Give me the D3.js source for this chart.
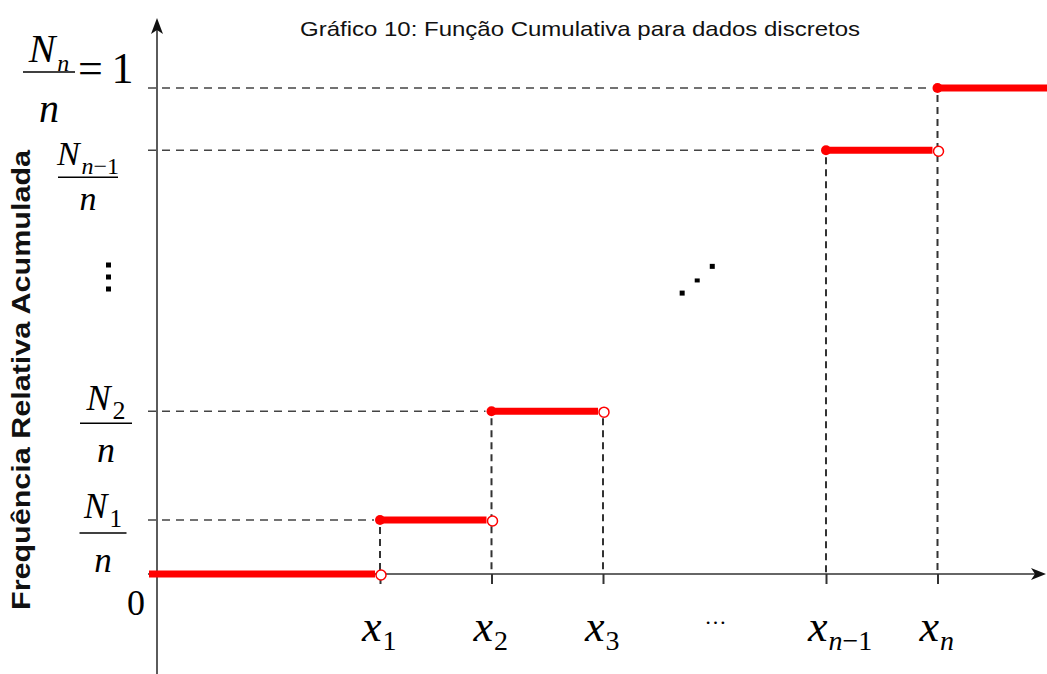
<!DOCTYPE html>
<html>
<head>
<meta charset="utf-8">
<script src="https://cdn.jsdelivr.net/npm/d3@7"></script>
<style>
  html, body { margin: 0; padding: 0; background: #fff; }
  svg { display: block; }
</style>
</head>
<body>
<svg id="chart" width="1047" height="674"></svg>
<script>
// ---------------- DATA ----------------
const title = "Gráfico 10: Função Cumulativa para dados discretos";
const yTitle = "Frequência Relativa Acumulada";
// x categories (index positions on the x axis)
const xIndex = [1, 2, 3, 5, 6];
const xSubs = ["1", "2", "3", "n\u22121", "n"];
const xEllipsisIndex = 4;
// cumulative relative frequency steps
const stepLevels = [0, 0.111, 0.335, 0.872, 1.0];
const stepStart  = [-1, 1, 2, 5, 6];
const stepEnd    = [1, 2, 3, 6, 7];
// y tick labels (fractions N_k / n)
const yLabelValues = [0.111, 0.335, 0.872, 1.0];
const yLabelSubs   = ["1", "2", "n\u22121", "n"];
// ellipsis dots for the skipped steps
const diagDotsX = [3.71, 3.845, 3.98];
const diagDotsY = [0.578, 0.604, 0.633];

// ---------------- SCALES ----------------
const svg = d3.select("#chart");
const x = d3.scaleLinear().domain([-1, 7]).range([157, 1049]);
const y = d3.scaleLinear().domain([0, 1]).range([574, 88]);
const RED = "#ff0000";
const serif = "'Liberation Serif', 'Times New Roman', serif";
const sans = "'Liberation Sans', Arial, sans-serif";

// title
svg.append("text").attr("x", 300).attr("y", 36)
  .style("font-family", sans)
  .style("font-size", "21px").attr("fill", "#111")
  .attr("textLength", 560).attr("lengthAdjust", "spacingAndGlyphs")
  .text(title);

// y axis title
svg.append("text")
  .attr("transform", "translate(30,610) rotate(-90)")
  .style("font-family", sans)
  .style("font-weight", "bold").style("font-size", "25px")
  .attr("textLength", 460).attr("lengthAdjust", "spacingAndGlyphs")
  .attr("fill", "#111").text(yTitle);

// ---------------- AXES ----------------
const xAxis = d3.axisBottom(x).tickValues(xIndex).tickSize(10).tickFormat("");
const gx = svg.append("g").attr("transform", `translate(0,${y(0)})`).call(xAxis);
gx.select(".domain").remove();
gx.selectAll(".tick line").attr("stroke", "#333").attr("stroke-width", 2);
svg.append("line").attr("x1", 148).attr("x2", 1036).attr("y1", y(0)).attr("y2", y(0))
  .attr("stroke", "#333").attr("stroke-width", 1.6);
// x arrow
svg.append("path")
  .attr("d", `M1046,${y(0)} L1031,${y(0)-6} L1035,${y(0)} L1031,${y(0)+6} Z`)
  .attr("fill", "#111");

svg.append("line").attr("x1", x(-1)).attr("x2", x(-1)).attr("y1", 674).attr("y2", 30)
  .attr("stroke", "#333").attr("stroke-width", 1.6);
svg.append("path")
  .attr("d", `M${x(-1)},18 L${x(-1)-6},34 L${x(-1)},30 L${x(-1)+6},34 Z`)
  .attr("fill", "#111");

// ---------------- DASHED GUIDES ----------------
const guides = svg.append("g");
stepLevels.forEach((v, i) => {
  if (i === 0) return;
  guides.append("line")
    .attr("x1", 148).attr("x2", x(stepStart[i]) - 6)
    .attr("y1", y(v)).attr("y2", y(v))
    .attr("stroke", "#444").attr("stroke-width", 1.5)
    .attr("stroke-dasharray", "8,6");
});
xIndex.forEach((xi) => {
  const si = stepStart.indexOf(xi);
  const lvl = si >= 0 ? stepLevels[si] : stepLevels[stepEnd.indexOf(xi)];
  guides.append("line")
    .attr("x1", x(xi)).attr("x2", x(xi))
    .attr("y1", y(lvl) + 7).attr("y2", y(0))
    .attr("stroke", "#333").attr("stroke-width", 2)
    .attr("stroke-dasharray", "7,5");
});

// ---------------- STEPS ----------------
const steps = svg.append("g");
stepLevels.forEach((v, i) => {
  const xs = i === 0 ? 149 : x(stepStart[i]);
  const xe = stepEnd[i] >= 7 ? 1047 : x(stepEnd[i]) - 5;
  steps.append("line")
    .attr("x1", xs).attr("x2", xe).attr("y1", y(v)).attr("y2", y(v))
    .attr("stroke", RED).attr("stroke-width", 7);
  if (i > 0) {
    steps.append("circle").attr("cx", x(stepStart[i])).attr("cy", y(v)).attr("r", 5)
      .attr("fill", RED);
  }
  if (stepEnd[i] < 7) {
    steps.append("circle").attr("cx", x(stepEnd[i]) + 1).attr("cy", y(v) + 1).attr("r", 5)
      .attr("fill", "#fff").attr("stroke", RED).attr("stroke-width", 1.5);
  }
});

// diagonal ellipsis
svg.append("g").selectAll("rect").data(diagDotsX).join("rect")
  .attr("x", (d) => x(d) - 2.5).attr("y", (d, i) => y(diagDotsY[i]) - (i === 1 ? 2 : 2.5))
  .attr("width", 5).attr("height", (d, i) => i === 1 ? 4 : 5).attr("fill", "#000");

// ---------------- X LABELS ----------------
const xl = svg.append("g").style("font-family", serif).attr("fill", "#000");
xIndex.forEach((xi, i) => {
  const t = xl.append("text").attr("x", x(xi) - 18).attr("y", 641)
    .style("font-style", "italic").style("font-size", "44px");
  t.append("tspan").text("x");
  const sub = t.append("tspan").attr("dy", 9).attr("dx", 1).style("font-size", "28px");
  if (xSubs[i].indexOf("n") >= 0) {
    const parts = xSubs[i].split(/(n)/).filter(s => s);
    parts.forEach(p => sub.append("tspan").style("font-style", p === "n" ? "italic" : "normal").text(p));
  } else {
    sub.style("font-style", "normal").text(xSubs[i]);
  }
});
xl.append("text").attr("x", x(xEllipsisIndex) - 10).attr("y", 624)
  .style("font-size", "22px").text("\u2026");
xl.append("text").attr("x", 136).attr("y", 615).attr("text-anchor", "middle")
  .style("font-size", "36px").text("0");

// ---------------- Y LABELS (fractions) ----------------
const layout = [
  {cx: 103, nY: -2,  bar: 13, dY: 52, fs: 35, w: 47},
  {cx: 106, nY: -1,  bar: 12, dY: 51, fs: 36, w: 52},
  {cx: 88,  nY: 15,  bar: 27, dY: 60, fs: 34, w: 60},
  {cx: 49,  nY: -26, bar: -16, dY: 34, fs: 40, w: 52}
];
const yl = svg.append("g").style("font-family", serif).attr("fill", "#000");
yLabelValues.forEach((v, i) => {
  const L = layout[i];
  const yy = y(v);
  const num = yl.append("text").attr("x", L.cx).attr("y", yy + L.nY)
    .attr("text-anchor", "middle").style("font-size", L.fs + "px");
  num.append("tspan").style("font-style", "italic").text("N");
  const s = yLabelSubs[i];
  const subFs = Math.round(L.fs * (s === "n" ? 0.6 : 0.72));
  const parts = s.split(/(n)/).filter(p => p);
  parts.forEach((p, k) => {
    const tp = num.append("tspan")
      .style("font-size", subFs + "px")
      .style("font-style", p === "n" ? "italic" : "normal").text(p);
    if (k === 0) tp.attr("dy", 9).attr("dx", 2);
  });
  yl.append("line").attr("x1", L.cx - L.w / 2).attr("x2", L.cx + L.w / 2)
    .attr("y1", yy + L.bar).attr("y2", yy + L.bar)
    .attr("stroke", "#000").attr("stroke-width", 1.5);
  yl.append("text").attr("x", L.cx).attr("y", yy + L.dY).attr("text-anchor", "middle")
    .style("font-style", "italic").style("font-size", L.fs + "px").text("n");
  if (i === yLabelValues.length - 1) {
    yl.append("text").attr("x", 78).attr("y", yy - 5)
      .style("font-size", "44px").text("=\u20091");
  }
});
// vertical ellipsis
svg.append("g").selectAll("rect").data([265, 277, 289]).join("rect")
  .attr("x", 106).attr("y", d => d - 2.5).attr("width", 5).attr("height", 5).attr("fill", "#000");
</script>
</body>
</html>
